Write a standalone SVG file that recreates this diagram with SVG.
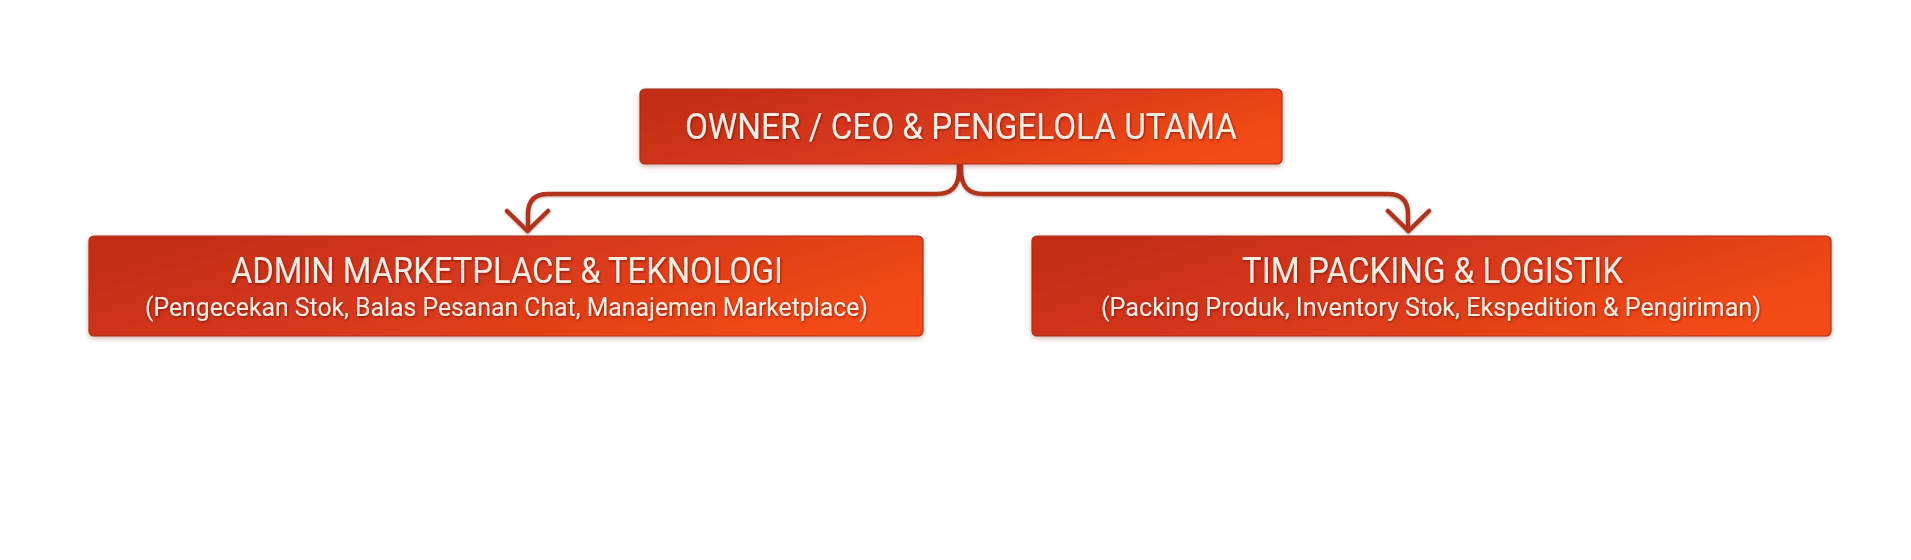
<svg xmlns="http://www.w3.org/2000/svg" width="1911" height="560" viewBox="0 0 1911 560">
  <defs>
    <linearGradient id="boxGrad" x1="0" y1="0.3" x2="1" y2="0.7">
      <stop offset="0" stop-color="#c42d18"/>
      <stop offset="0.5" stop-color="#d93a1b"/>
      <stop offset="1" stop-color="#f64c14"/>
    </linearGradient>
    <filter id="boxShadow" x="-5%" y="-20%" width="110%" height="150%">
      <feDropShadow dx="0" dy="2" stdDeviation="2.5" flood-color="#8a2a14" flood-opacity="0.35"/>
    </filter>
    <filter id="txtShadow" x="-5%" y="-30%" width="110%" height="160%">
      <feDropShadow dx="0.8" dy="1.2" stdDeviation="0.9" flood-color="#6e1606" flood-opacity="0.7"/>
    </filter>
    <filter id="lineShadow" x="-5%" y="-20%" width="110%" height="150%">
      <feDropShadow dx="0" dy="1" stdDeviation="1.2" flood-color="#7a1a0a" flood-opacity="0.35"/>
    </filter>
  </defs>
  <style>
    .box { fill: url(#boxGrad); stroke: #a8301c; stroke-width: 1.2; filter: url(#boxShadow); }
    .title { font-family: Roboto, "Liberation Sans", sans-serif; font-size: 36px; fill: #fcede4; text-anchor: start; filter: url(#txtShadow); }
    .sub { font-family: Roboto, "Liberation Sans", sans-serif; font-size: 26px; fill: #fcede4; text-anchor: start; filter: url(#txtShadow); }
    .conn { fill: none; stroke: #b3321e; stroke-width: 4.5; stroke-linecap: round; stroke-linejoin: round; filter: url(#lineShadow); }
  </style>
  <rect x="0" y="0" width="1911" height="560" fill="#ffffff"/>

  <g id="connectors">
    <path class="conn" d="M959,164 L959,170 C959,186 952,194 936,194 L548,194 Q528,194 528,214 L528,230"/>
    <polyline class="conn" points="507,211 527.5,231 548,211"/>
    <path class="conn" d="M961,164 L961,170 C961,186 968,194 984,194 L1388,194 Q1408,194 1408,214 L1408,230"/>
    <polyline class="conn" points="1388,211 1408.5,231 1429,211"/>
  </g>

  <g id="node-owner">
    <rect class="box" x="640" y="89" width="642" height="75" rx="5" ry="5"/>
    <text class="title" x="685" y="139" textLength="552" lengthAdjust="spacingAndGlyphs">OWNER / CEO &amp; PENGELOLA UTAMA</text>
  </g>

  <g id="node-admin">
    <rect class="box" x="89" y="236" width="834" height="100" rx="5" ry="5"/>
    <text class="title" x="231" y="283" textLength="552" lengthAdjust="spacingAndGlyphs">ADMIN MARKETPLACE &amp; TEKNOLOGI</text>
    <text class="sub" x="145" y="316" textLength="723" lengthAdjust="spacingAndGlyphs">(Pengecekan Stok, Balas Pesanan Chat, Manajemen Marketplace)</text>
  </g>

  <g id="node-packing">
    <rect class="box" x="1032" y="236" width="799" height="100" rx="5" ry="5"/>
    <text class="title" x="1242" y="283" textLength="381" lengthAdjust="spacingAndGlyphs">TIM PACKING &amp; LOGISTIK</text>
    <text class="sub" x="1101" y="316" textLength="660" lengthAdjust="spacingAndGlyphs">(Packing Produk, Inventory Stok, Ekspedition &amp; Pengiriman)</text>
  </g>
</svg>
